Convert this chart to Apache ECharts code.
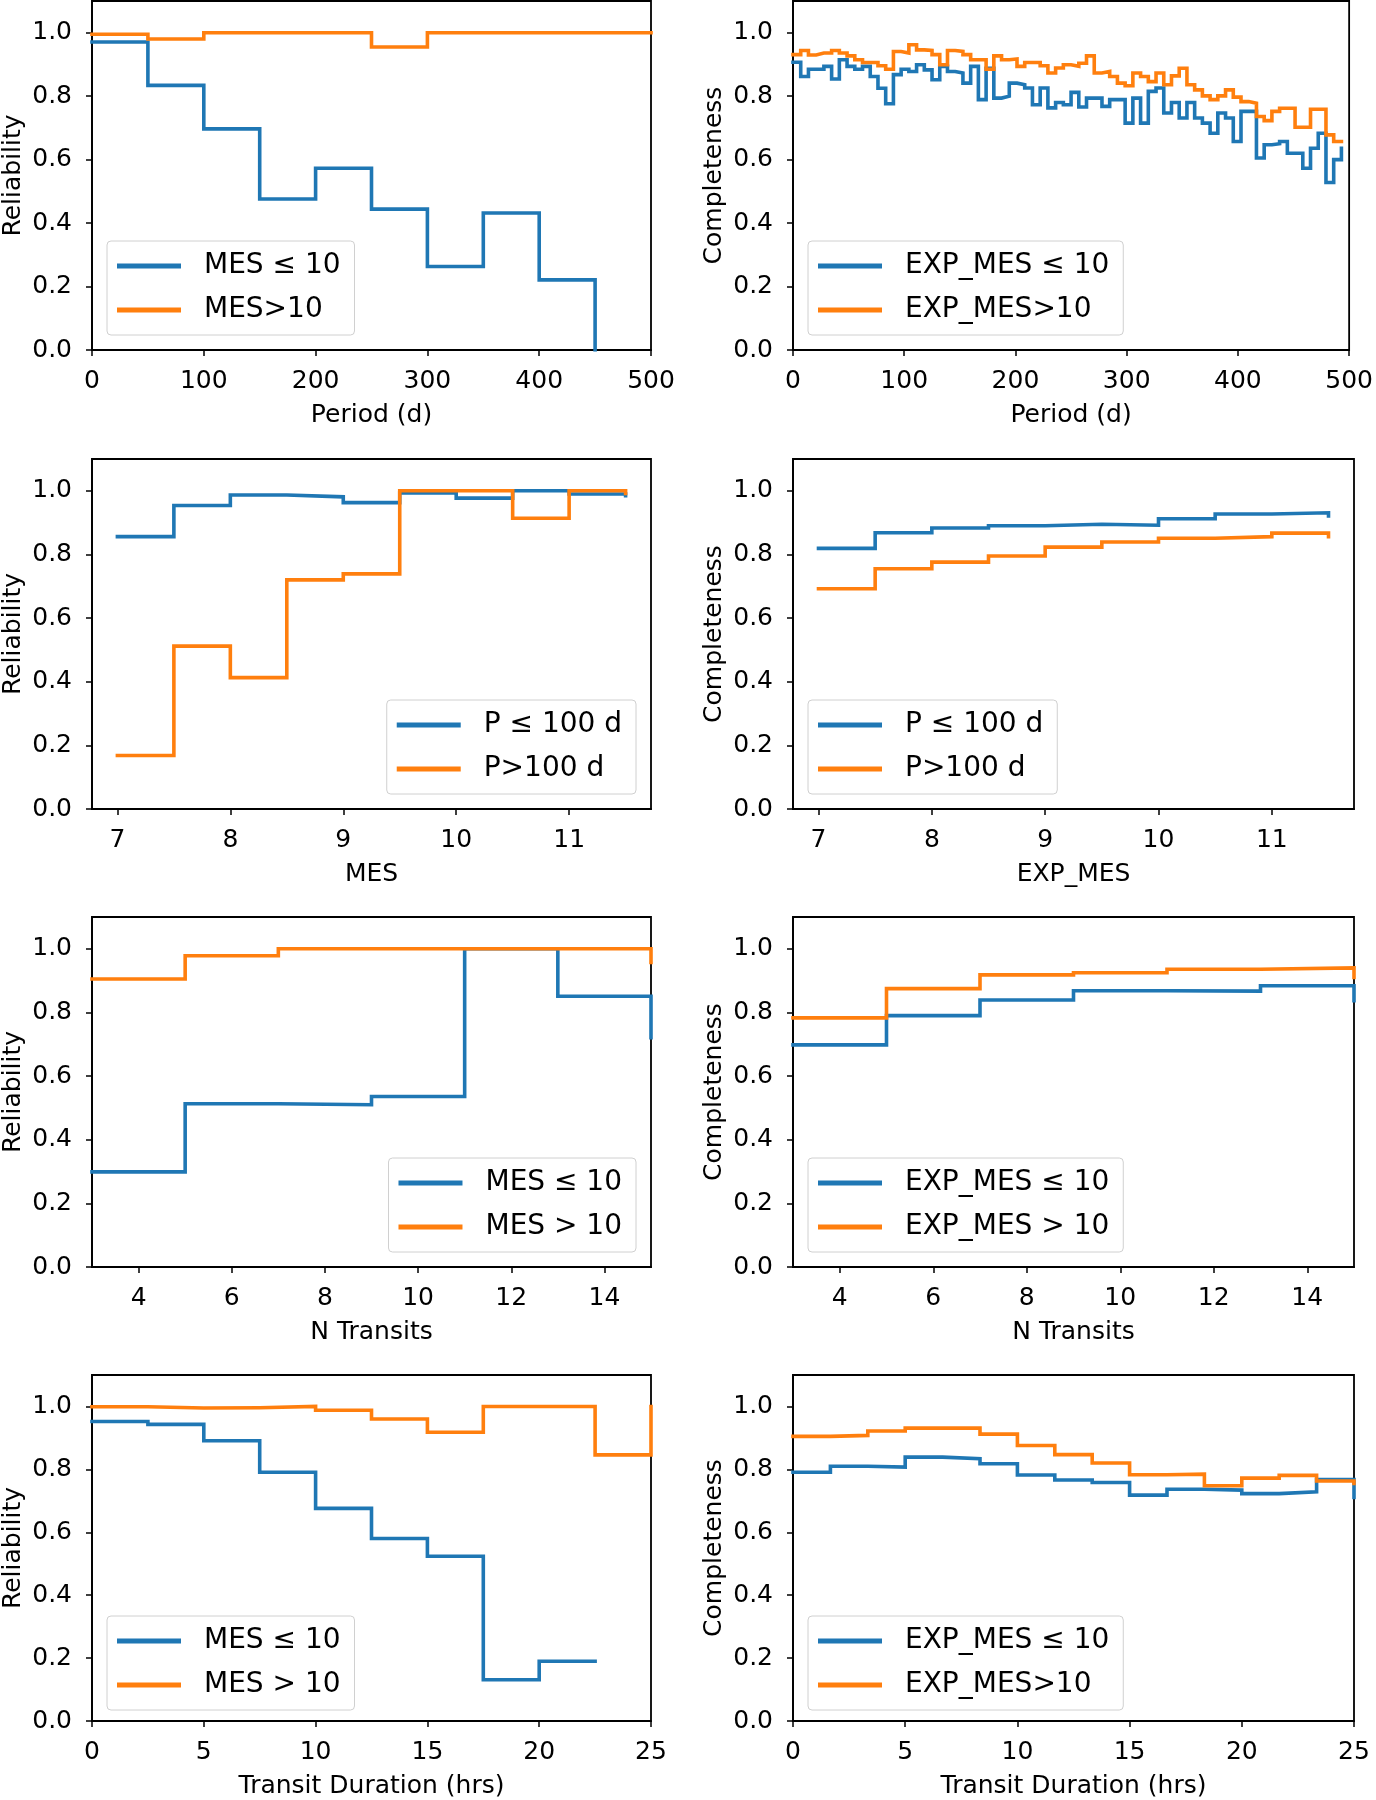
<!DOCTYPE html>
<html><head><meta charset="utf-8">
<script src="https://cdn.jsdelivr.net/npm/echarts@6/dist/echarts.min.js"></script>
<style>html,body{margin:0;padding:0;background:#fff}#c{width:1376px;height:1800px}</style>
</head><body><div id="c"></div>
<script>
// ---------- DATA ----------
// Panel 1: Reliability vs Period (bin edges, step "post")
const periodEdges = [0, 50, 100, 150, 200, 250, 300, 350, 400, 450, 500];
const relPeriodLow  = [0.971, 0.834, 0.697, 0.476, 0.573, 0.444, 0.263, 0.432, 0.221, 0.0];
const relPeriodHigh = [0.995, 0.980, 1.0, 1.0, 1.0, 0.955, 1.0, 1.0, 1.0, 1.0, 1.0];

// Panel 2: Completeness vs Period (72 narrow bins over 0-500 d)
const compPeriodLow = [0.907,0.862,0.885,0.885,0.894,0.854,0.915,0.894,0.885,0.894,
  0.862,0.825,0.776,0.868,0.885,0.878,0.899,0.883,0.852,0.894,
  0.878,0.873,0.841,0.894,0.789,0.888,0.794,0.800,0.841,0.836,
  0.826,0.773,0.826,0.763,0.780,0.773,0.812,0.766,0.794,0.794,
  0.768,0.789,0.789,0.715,0.794,0.715,0.815,0.826,0.747,0.780,
  0.731,0.780,0.731,0.715,0.683,0.747,0.731,0.657,0.752,0.752,
  0.605,0.647,0.650,0.657,0.620,0.620,0.573,0.636,0.683,0.528,
  0.600,0.636];
const compPeriodHigh = [0.931,0.944,0.930,0.936,0.936,0.944,0.936,0.927,0.915,0.906,
  0.906,0.896,0.885,0.941,0.936,0.962,0.946,0.944,0.931,0.899,
  0.944,0.941,0.931,0.915,0.915,0.885,0.927,0.915,0.917,0.894,
  0.906,0.906,0.896,0.873,0.889,0.899,0.894,0.904,0.927,0.873,
  0.878,0.862,0.841,0.833,0.873,0.862,0.846,0.873,0.836,0.864,
  0.888,0.836,0.820,0.801,0.789,0.801,0.820,0.797,0.783,0.778,
  0.736,0.723,0.752,0.762,0.762,0.702,0.702,0.759,0.759,0.678,
  0.657,0.657];
const periodFineBins = 72;

// Panel 3 / 4: vs MES
const mesEdges = [7, 7.5, 8, 8.5, 9, 9.5, 10, 10.5, 11, 11.5];
const relMesShort = [0.856, 0.954, 0.987, 0.981, 0.963, 0.993, 0.977, 1.0, 0.990, 0.985];
const relMesLong  = [0.168, 0.512, 0.413, 0.720, 0.739, 1.0, 1.0, 0.914, 1.0, 0.992];
const compMesShort = [0.819, 0.868, 0.883, 0.890, 0.895, 0.892, 0.912, 0.927, 0.931, 0.921];
const compMesLong  = [0.692, 0.755, 0.776, 0.795, 0.823, 0.839, 0.851, 0.856, 0.867, 0.856];

// Panel 5 / 6: vs N Transits
const ntEdges = [3, 5, 7, 9, 11, 13, 15];
const relNtLow  = [0.299, 0.513, 0.510, 0.536, 1.0, 0.851, 0.721];
const relNtHigh = [0.905, 0.978, 1.0, 1.0, 1.0, 1.0, 0.957];
const compNtLow  = [0.698, 0.790, 0.839, 0.868, 0.867, 0.884, 0.837];
const compNtHigh = [0.783, 0.875, 0.918, 0.925, 0.936, 0.940, 0.910];

// Panel 7: Reliability vs Transit Duration
const durEdges = [0, 2.5, 5, 7.5, 10, 12.5, 15, 17.5, 20, 22.5, 25];
const relDurLow  = [0.952, 0.943, 0.891, 0.791, 0.676, 0.580, 0.524, 0.131, 0.190, 0.190];
const relDurHigh = [0.999, 0.995, 0.996, 1.0, 0.988, 0.960, 0.918, 1.0, 1.0, 0.846, 1.0];

// Panel 8: Completeness vs Transit Duration (15 bins over 0-25 h)
const durFineBins = 15;
const compDurLow  = [0.791,0.810,0.807,0.839,0.834,0.818,0.782,0.766,0.758,0.718,0.737,0.734,0.723,0.729,0.768,0.711];
const compDurHigh = [0.905,0.908,0.922,0.931,0.931,0.912,0.876,0.847,0.820,0.783,0.785,0.748,0.772,0.781,0.763,0.755];

// tick labels
const yTicks = [0, 0.2, 0.4, 0.6, 0.8, 1.0];
const periodTicks = [0, 100, 200, 300, 400, 500];
const mesTicks = [7, 8, 9, 10, 11];
const ntTicks = [4, 6, 8, 10, 12, 14];
const durTicks = [0, 5, 10, 15, 20, 25];

// ---------- BUILD ----------
const LE = '\u2264';
const BLUE = '#1f77b4', ORANGE = '#ff7f0e';
const FONT = 'DejaVu Sans';
const periodFineEdges = compPeriodLow.map((_, i) => i * 500 / periodFineBins);
const durFineEdges = compDurLow.map((_, i) => i * 25 / durFineBins);

const cols = [{left: 92, width: 559}, {left: 793, width: 561}];
const rows = [{top: 1, height: 349}, {top: 459, height: 350}, {top: 917, height: 350}, {top: 1375, height: 350}];

const panels = [
  {r:0,c:0, xmin:0, xmax:500, xt:periodTicks, xname:'Period (d)', yname:'Reliability', leg:'left',
   s:[['MES ' + LE + ' 10', periodEdges, relPeriodLow, BLUE], ['MES>10', periodEdges, relPeriodHigh, ORANGE]]},
  {r:0,c:1, xmin:0, xmax:500, xt:periodTicks, xname:'Period (d)', yname:'Completeness', leg:'left',
   s:[['EXP_MES ' + LE + ' 10', periodFineEdges, compPeriodLow, BLUE], ['EXP_MES>10', periodFineEdges, compPeriodHigh, ORANGE]]},
  {r:1,c:0, xmin:6.775, xmax:11.725, xt:mesTicks, xname:'MES', yname:'Reliability', leg:'right',
   s:[['P ' + LE + ' 100 d', mesEdges, relMesShort, BLUE], ['P>100 d', mesEdges, relMesLong, ORANGE]]},
  {r:1,c:1, xmin:6.775, xmax:11.725, xt:mesTicks, xname:'EXP_MES', yname:'Completeness', leg:'left',
   s:[['P ' + LE + ' 100 d', mesEdges, compMesShort, BLUE], ['P>100 d', mesEdges, compMesLong, ORANGE]]},
  {r:2,c:0, xmin:3, xmax:15, xt:ntTicks, xname:'N Transits', yname:'Reliability', leg:'right',
   s:[['MES ' + LE + ' 10', ntEdges, relNtLow, BLUE], ['MES > 10', ntEdges, relNtHigh, ORANGE]]},
  {r:2,c:1, xmin:3, xmax:15, xt:ntTicks, xname:'N Transits', yname:'Completeness', leg:'left',
   s:[['EXP_MES ' + LE + ' 10', ntEdges, compNtLow, BLUE], ['EXP_MES > 10', ntEdges, compNtHigh, ORANGE]]},
  {r:3,c:0, xmin:0, xmax:25, xt:durTicks, xname:'Transit Duration (hrs)', yname:'Reliability', leg:'left',
   s:[['MES ' + LE + ' 10', durEdges, relDurLow, BLUE], ['MES > 10', durEdges, relDurHigh, ORANGE]]},
  {r:3,c:1, xmin:0, xmax:25, xt:durTicks, xname:'Transit Duration (hrs)', yname:'Completeness', leg:'left',
   s:[['EXP_MES ' + LE + ' 10', durFineEdges, compDurLow, BLUE], ['EXP_MES>10', durFineEdges, compDurHigh, ORANGE]]}
];

const grid = [], xAxis = [], yAxis = [], series = [], legend = [];
const axisCommon = {
  axisLine: {show: true, onZero: false, lineStyle: {color: '#000', width: 1.8}},
  axisTick: {show: true, inside: false, length: 6, lineStyle: {color: '#000', width: 1.5}},
  splitLine: {show: false},
  nameLocation: 'middle',
  nameTextStyle: {fontSize: 25, color: '#000', fontFamily: FONT}
};

panels.forEach((p, i) => {
  const col = cols[p.c], row = rows[p.r];
  grid.push({left: col.left, top: row.top, width: col.width, height: row.height,
    show: true, borderColor: '#000', borderWidth: 1.8, backgroundColor: 'transparent', containLabel: false});
  xAxis.push(Object.assign({}, axisCommon, {
    type: 'value', gridIndex: i, min: p.xmin, max: p.xmax, name: p.xname, nameGap: 53,
    axisTick: Object.assign({}, axisCommon.axisTick, {customValues: p.xt}),
    axisLabel: {customValues: p.xt, fontSize: 25, color: '#000', fontFamily: FONT, margin: 19,
      formatter: v => String(v)}
  }));
  yAxis.push(Object.assign({}, axisCommon, {
    type: 'value', gridIndex: i, min: 0, max: 1.1, name: p.yname, nameGap: 66,
    axisTick: Object.assign({}, axisCommon.axisTick, {customValues: yTicks}),
    axisLabel: {customValues: yTicks, fontSize: 25, color: '#000', fontFamily: FONT, margin: 20,
      formatter: v => v.toFixed(1)}
  }));
  p.s.forEach(([name, xs, ys, color]) => {
    series.push({
      type: 'line', name, xAxisIndex: i, yAxisIndex: i, step: 'end', showSymbol: false, symbol: 'none',
      data: ys.map((y, k) => [xs[k], y]),
      lineStyle: {color, width: 3.6, cap: 'square', join: 'miter'},
      itemStyle: {color}, clip: true, silent: true
    });
  });
  const lg = {
    orient: 'vertical', top: row.top + row.height - 109,
    itemWidth: 64, itemHeight: 5, itemGap: 14, icon: 'rect', selectedMode: false,
    padding: [10, 14, 10, 10],
    borderColor: '#d0d0d0', borderWidth: 1, borderRadius: 4, backgroundColor: 'rgba(255,255,255,0.8)',
    textStyle: {fontSize: 28, fontFamily: FONT, color: '#000', padding: [0, 0, 0, 18], lineHeight: 30},
    data: p.s.map(s => s[0])
  };
  if (p.leg === 'left') lg.left = col.left + 15; else lg.right = 1376 - (col.left + col.width - 15);
  legend.push(lg);
});

const chart = echarts.init(document.getElementById('c'), null, {renderer: 'canvas'});
chart.setOption({
  animation: false,
  backgroundColor: '#fff',
  textStyle: {fontFamily: FONT},
  grid, xAxis, yAxis, series, legend
});
</script></body></html>
